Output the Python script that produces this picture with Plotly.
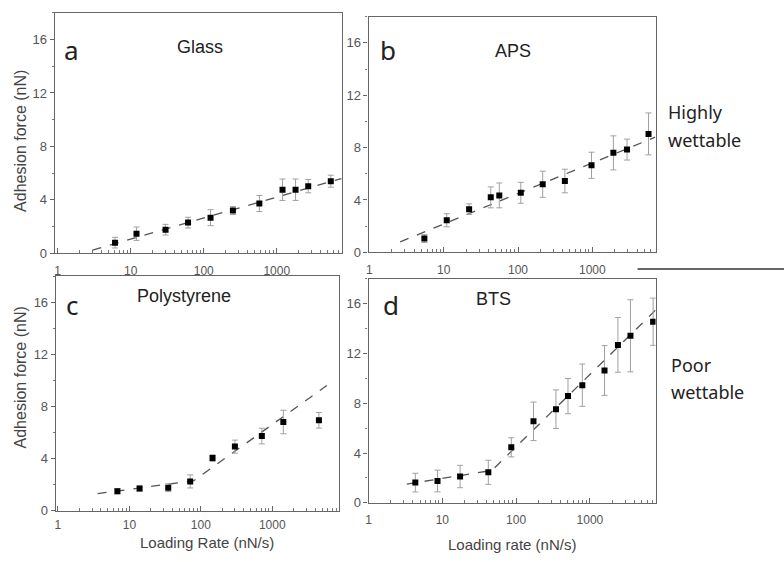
import plotly.graph_objects as go

# ---------------- data ----------------
a_x = [6.1, 12, 30, 61, 124, 251, 578, 1200, 1810, 2700, 5500]
a_y = [0.8, 1.47, 1.77, 2.3, 2.67, 3.2, 3.73, 4.76, 4.76, 5.03, 5.4]
a_err = [0.4, 0.5, 0.4, 0.4, 0.6, 0.3, 0.6, 0.8, 0.8, 0.5, 0.45]
a_fit_x = [3.0, 7700]
a_fit_y = [0.25, 5.6]

b_x = [5.5, 11, 22, 43, 56, 109, 215, 427, 975, 1920, 2930, 5700]
b_y = [1.05, 2.45, 3.3, 4.2, 4.35, 4.55, 5.2, 5.45, 6.65, 7.6, 7.85, 9.05]
b_err = [0.3, 0.5, 0.4, 0.8, 0.95, 0.8, 1.0, 0.9, 1.0, 1.3, 0.8, 1.6]
b_fit_x = [2.6, 7000]
b_fit_y = [0.8, 8.8]

c_x = [6.8, 13.9, 35, 71, 146, 300, 715, 1430, 4500]
c_y = [1.49, 1.69, 1.76, 2.24, 4.03, 4.91, 5.72, 6.8, 6.93]
c_err = [0.2, 0.2, 0.3, 0.5, 0.25, 0.5, 0.6, 0.9, 0.6]
c_fit_x = [3.6, 80, 5800]
c_fit_y = [1.3, 2.3, 9.6]

d_x = [4.3, 8.6, 17.4, 42, 86, 172, 347, 505, 790, 1580, 2400, 3550, 7200]
d_y = [1.62, 1.75, 2.11, 2.45, 4.46, 6.55, 7.53, 8.58, 9.46, 10.64, 12.7, 13.43, 14.56]
d_err = [0.75, 0.87, 0.9, 0.97, 0.77, 1.55, 1.55, 1.42, 1.7, 2.0, 2.2, 2.9, 1.9]
d_fit_x = [3.3, 47, 7800]
d_fit_y = [1.5, 2.6, 15.5]

x_tickvals = [1, 10, 100, 1000]
x_ticktext = ["1", "10", "100", "1000"]
y_tickvals = [0, 4, 8, 12, 16]
minor_x = [m * 10 ** e for e in range(0, 4) for m in range(2, 10)]

panels = [
    # name, x, y, err, fitx, fity, xdomain, ydomain, xrange, label standoff
    ("a", a_x, a_y, a_err, a_fit_x, a_fit_y, [0.0663, 0.4337], [0.5427, 0.9769], [-0.04, 3.89], 6),
    ("b", b_x, b_y, b_err, b_fit_x, b_fit_y, [0.4681, 0.8355], [0.5445, 0.9698], [-0.01, 3.85], 6),
    ("c", c_x, c_y, c_err, c_fit_x, c_fit_y, [0.0676, 0.4298], [0.0783, 0.5018], [-0.03, 3.93], 3),
    ("d", d_x, d_y, d_err, d_fit_x, d_fit_y, [0.4681, 0.8355], [0.0925, 0.4964], [0.0, 3.89], 6),
]

fig = go.Figure()
layout = {}
for i, (name, xs, ys, es, fx, fy, xd, yd, xr, so) in enumerate(panels):
    n = "" if i == 0 else str(i + 1)
    xa, ya = "x" + n, "y" + n
    fig.add_trace(go.Scatter(
        x=fx, y=fy, mode="lines", xaxis=xa, yaxis=ya,
        line=dict(color="#555555", width=1.3, dash="dash"), showlegend=False))
    fig.add_trace(go.Scatter(
        x=xs, y=ys, mode="markers", xaxis=xa, yaxis=ya,
        marker=dict(symbol="square", size=6, color="black"),
        error_y=dict(type="data", array=es, color="#a0a0a0", thickness=1, width=3),
        showlegend=False))
    layout["xaxis" + n] = dict(
        type="log", domain=xd, range=xr, anchor=ya,
        tickvals=x_tickvals, ticktext=x_ticktext,
        ticks="inside", ticklen=5, tickcolor="#666666", ticklabelstandoff=so,
        minor=dict(tickvals=minor_x, ticks="inside", ticklen=3, tickcolor="#777777"),
        showgrid=False, zeroline=False,
        showline=True, linecolor="#666666", linewidth=1.2, mirror=True,
        tickfont=dict(family="Liberation Sans, Arial", size=12, color="#555555"),
    )
    layout["yaxis" + n] = dict(
        domain=yd, range=[0, 18], anchor=xa,
        tickvals=y_tickvals, ticks="outside", ticklen=4, tickcolor="#666666",
        minor=dict(dtick=2, ticks="outside", ticklen=2, tickcolor="#777777"),
        showgrid=False, zeroline=False,
        showline=True, linecolor="#666666", linewidth=1.2, mirror=True,
        tickfont=dict(family="Liberation Sans, Arial", size=13, color="#555555"),
    )

W, H = 784, 562

def ann(text, x, y, size, angle=0, xanchor="center", color="#222222", family="Liberation Sans, Arial"):
    return dict(text=text, x=x / W, y=1 - y / H, xref="paper", yref="paper",
                showarrow=False, xanchor=xanchor, yanchor="middle", textangle=angle,
                font=dict(family=family, size=size, color=color))

annotations = [
    ann("a", 69, 51, 26, family="Noto Sans, Liberation Sans"),
    ann("b", 386, 51, 26, family="Noto Sans, Liberation Sans"),
    ann("c", 69, 309, 26, family="Noto Sans, Liberation Sans"),
    ann("d", 389, 309, 26, family="Noto Sans, Liberation Sans"),
    ann("Glass", 198, 48, 18),
    ann("APS", 512, 52, 18),
    ann("Polystyrene", 182, 300, 18),
    ann("BTS", 492, 303, 18),
    ann("Adhesion force (nN)", 18, 143, 16, angle=-90, color="#444444"),
    ann("Adhesion force (nN)", 18, 383, 16, angle=-90, color="#444444"),
    ann("Loading Rate (nN/s)", 205, 550, 15, color="#444444"),
    ann("Loading rate (nN/s)", 511, 552, 15, color="#444444"),
    ann("Highly", 666, 114, 18, xanchor="left", family="Noto Sans, Liberation Sans"),
    ann("wettable", 666, 142, 18, xanchor="left", family="Noto Sans, Liberation Sans"),
    ann("Poor", 669, 370, 18, xanchor="left", family="Noto Sans, Liberation Sans"),
    ann("wettable", 669, 398, 18, xanchor="left", family="Noto Sans, Liberation Sans"),
]

fig.update_layout(
    width=W, height=H, margin=dict(l=0, r=0, t=0, b=0),
    paper_bgcolor="white", plot_bgcolor="white",
    annotations=annotations,
    shapes=[dict(type="line", xref="paper", yref="paper",
                 x0=637 / W, x1=1.0, y0=1 - 273 / H, y1=1 - 273 / H,
                 line=dict(color="#333333", width=1.5))],
    **layout,
)

fig.write_html("out.html")
